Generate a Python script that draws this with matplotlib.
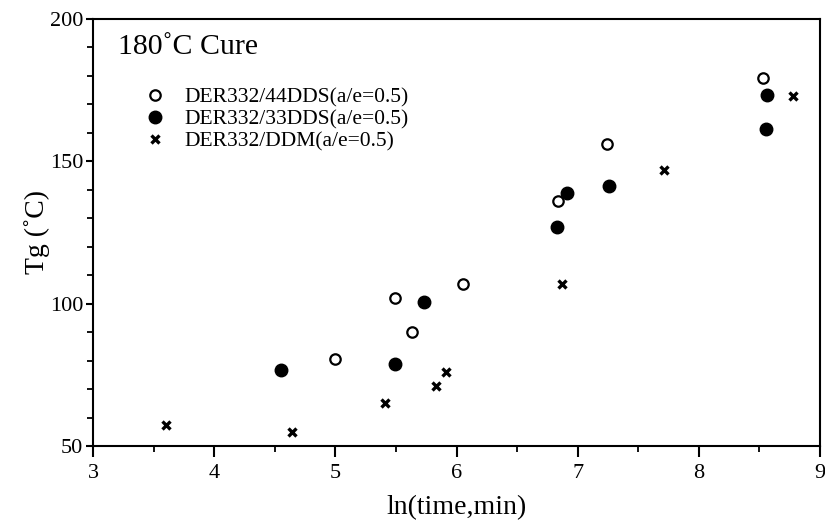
import matplotlib
matplotlib.use("Agg")
import matplotlib.pyplot as plt
from matplotlib.ticker import MultipleLocator

# DER332/44DDS (open circles)
x_44dds = [5.00, 5.49, 5.63, 6.05, 6.84, 7.24, 8.53]
y_44dds = [80.7, 102.0, 89.9, 106.8, 135.9, 156.0, 179.4]

# DER332/33DDS (filled circles)
x_33dds = [4.55, 5.49, 5.73, 6.83, 6.91, 7.26, 8.55, 8.56]
y_33dds = [76.6, 78.9, 100.6, 127.1, 139.0, 141.3, 161.3, 173.3]

# DER332/DDM (crosses)
x_ddm = [3.60, 4.64, 5.41, 5.83, 5.91, 6.87, 7.71, 8.78]
y_ddm = [57.3, 54.8, 65.0, 71.0, 75.9, 106.8, 146.9, 173.1]

labels = ["DER332/44DDS(a/e=0.5)", "DER332/33DDS(a/e=0.5)", "DER332/DDM(a/e=0.5)"]

plt.rcParams["font.family"] = ["Liberation Serif", "DejaVu Serif"]

fig = plt.figure(figsize=(8.25, 5.27), dpi=100)
ax = fig.add_axes([0.1127, 0.1537, 0.8813, 0.8103])

ax.plot(x_44dds, y_44dds, "o", ms=7.5, mfc="white", mec="black", mew=1.6,
        linestyle="none", label=labels[0])
ax.plot(x_33dds, y_33dds, "o", ms=9, mfc="black", mec="black",
        linestyle="none", label=labels[1])
ax.plot(x_ddm, y_ddm, "x", ms=5.5, mec="black", mew=2.4,
        linestyle="none", label=labels[2])

ax.set_xlim(3, 9)
ax.set_ylim(50, 200)
ax.xaxis.set_major_locator(MultipleLocator(1))
ax.xaxis.set_minor_locator(MultipleLocator(0.5))
ax.yaxis.set_major_locator(MultipleLocator(50))
ax.yaxis.set_minor_locator(MultipleLocator(10))
ax.tick_params(which="major", direction="out", width=1.5, labelsize=16)
ax.tick_params(axis="x", which="major", length=8, pad=5)
ax.tick_params(axis="y", which="major", length=5, pad=2)
ax.tick_params(which="minor", direction="out", length=4, width=1.3)
for s in ax.spines.values():
    s.set_linewidth(1.5)

ax.set_xlabel("ln(time,min)", fontsize=20, labelpad=9)
ax.set_ylabel("Tg (˚C)", fontsize=20, labelpad=0)

ax.text(0.035, 0.935, "180˚C Cure", transform=ax.transAxes, fontsize=21.5,
        va="center", ha="left")

ax.legend(loc="upper left", bbox_to_anchor=(0.07, 0.84), frameon=False,
          fontsize=15.5, handletextpad=0.9, labelspacing=0.1, handlelength=1.0,
          borderaxespad=0, borderpad=0)

fig.savefig("out.png", dpi=100)
